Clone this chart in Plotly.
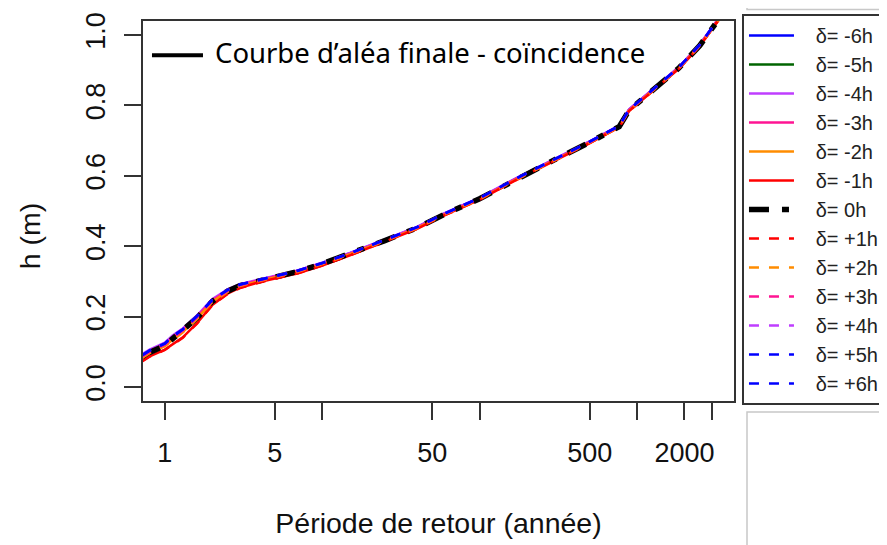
import plotly.graph_objects as go

# periode de retour (annees) commune a toutes les courbes
periode = [0.72, 0.8, 1.0, 1.12, 1.3, 1.6, 2.0, 2.5, 3.0, 4.0, 5.0, 7.0, 10, 15, 25, 40,
           60, 100, 170, 300, 500, 770, 890, 1250, 1850, 2500, 3300]

# hauteurs h (m), une liste par decalage delta
h_m6 = [0.090, 0.103, 0.123, 0.143, 0.163, 0.200, 0.247, 0.275, 0.290, 0.304, 0.314, 0.330, 0.352,
        0.380, 0.418, 0.454, 0.493, 0.537, 0.592, 0.648, 0.697, 0.742, 0.788, 0.844, 0.909, 0.972, 1.047]
h_m5 = [0.086, 0.099, 0.119, 0.137, 0.159, 0.197, 0.244, 0.273, 0.289, 0.303, 0.313, 0.329, 0.351,
        0.379, 0.417, 0.453, 0.492, 0.536, 0.591, 0.647, 0.696, 0.741, 0.787, 0.843, 0.908, 0.971, 1.046]
h_m4 = [0.093, 0.106, 0.126, 0.146, 0.166, 0.203, 0.249, 0.277, 0.292, 0.305, 0.315, 0.331, 0.353,
        0.381, 0.419, 0.455, 0.494, 0.538, 0.593, 0.649, 0.698, 0.743, 0.789, 0.845, 0.910, 0.973, 1.048]
h_m3 = [0.088, 0.101, 0.121, 0.140, 0.161, 0.199, 0.246, 0.274, 0.290, 0.304, 0.314, 0.330, 0.351,
        0.379, 0.417, 0.453, 0.492, 0.536, 0.591, 0.647, 0.696, 0.741, 0.787, 0.843, 0.908, 0.971, 1.046]
h_m2 = [0.084, 0.097, 0.117, 0.135, 0.156, 0.194, 0.242, 0.271, 0.287, 0.301, 0.311, 0.327, 0.349,
        0.377, 0.415, 0.451, 0.490, 0.534, 0.589, 0.645, 0.694, 0.739, 0.785, 0.841, 0.906, 0.969, 1.044]
h_m1 = [0.074, 0.087, 0.106, 0.121, 0.141, 0.181, 0.233, 0.265, 0.282, 0.298, 0.308, 0.323, 0.345,
        0.374, 0.413, 0.449, 0.488, 0.532, 0.588, 0.644, 0.693, 0.738, 0.784, 0.840, 0.905, 0.968, 1.043]
h_0 = [0.085, 0.098, 0.118, 0.136, 0.158, 0.196, 0.243, 0.272, 0.288, 0.302, 0.312, 0.328, 0.350,
       0.378, 0.416, 0.452, 0.491, 0.535, 0.590, 0.646, 0.695, 0.740, 0.786, 0.842, 0.907, 0.970, 1.045]
h_p1 = [0.073, 0.086, 0.105, 0.120, 0.140, 0.180, 0.232, 0.264, 0.281, 0.297, 0.307, 0.323, 0.345,
        0.374, 0.413, 0.449, 0.488, 0.532, 0.588, 0.644, 0.693, 0.738, 0.784, 0.840, 0.905, 0.968, 1.043]
h_p2 = [0.083, 0.096, 0.116, 0.134, 0.155, 0.193, 0.241, 0.270, 0.287, 0.301, 0.311, 0.327, 0.349,
        0.377, 0.415, 0.451, 0.490, 0.534, 0.589, 0.645, 0.694, 0.739, 0.785, 0.841, 0.906, 0.969, 1.044]
h_p3 = [0.087, 0.100, 0.120, 0.139, 0.160, 0.198, 0.245, 0.273, 0.289, 0.303, 0.313, 0.329, 0.351,
        0.379, 0.417, 0.453, 0.492, 0.536, 0.591, 0.647, 0.696, 0.741, 0.787, 0.843, 0.908, 0.971, 1.046]
h_p4 = [0.092, 0.105, 0.125, 0.145, 0.165, 0.202, 0.248, 0.276, 0.291, 0.305, 0.315, 0.331, 0.353,
        0.380, 0.418, 0.454, 0.493, 0.537, 0.592, 0.648, 0.697, 0.742, 0.788, 0.844, 0.909, 0.972, 1.047]
h_p5 = [0.090, 0.103, 0.123, 0.143, 0.163, 0.201, 0.247, 0.275, 0.291, 0.304, 0.314, 0.330, 0.352,
        0.380, 0.418, 0.454, 0.493, 0.537, 0.592, 0.648, 0.697, 0.742, 0.788, 0.844, 0.909, 0.972, 1.047]
h_p6 = [0.091, 0.104, 0.124, 0.144, 0.164, 0.201, 0.248, 0.276, 0.291, 0.305, 0.315, 0.331, 0.352,
        0.380, 0.418, 0.454, 0.493, 0.537, 0.592, 0.648, 0.697, 0.742, 0.788, 0.844, 0.909, 0.972, 1.047]

noms = ["δ= -6h", "δ= -5h", "δ= -4h", "δ= -3h", "δ= -2h", "δ= -1h", "δ= 0h",
        "δ= +1h", "δ= +2h", "δ= +3h", "δ= +4h", "δ= +5h", "δ= +6h"]
series = [h_m6, h_m5, h_m4, h_m3, h_m2, h_m1, h_0, h_p1, h_p2, h_p3, h_p4, h_p5, h_p6]

x_ticks = [1, 5, 10, 50, 100, 500, 1000, 2000, 3000]
x_labels = ["1", "5", "", "50", "", "500", "", "2000", ""]
y_ticks = [0.0, 0.2, 0.4, 0.6, 0.8, 1.0]

couleurs = ["#0000FF", "#006400", "#BF3EFF", "#FF1493", "#FF8C00", "#FF0000", "#000000",
            "#FF0000", "#FF8C00", "#FF1493", "#BF3EFF", "#0000FF", "#0000FF"]

fig = go.Figure()
for nom, h, c in zip(noms, series, couleurs):
    if nom == "δ= 0h":
        ligne = dict(color=c, width=5.5, dash="20px,13px,7px,13px")
    elif "+" in nom:
        ligne = dict(color=c, width=2.5, dash="10px,10px")
    else:
        ligne = dict(color=c, width=2.5)
    # espaces insecables pour decaler le texte de la legende
    fig.add_trace(go.Scatter(x=periode, y=h, mode="lines", name="\u00a0\u00a0\u00a0" + nom,
                             line=ligne))

police = "Liberation Sans, Arial"
axe = dict(showline=True, linecolor="#333333", linewidth=1.5, mirror=True,
           ticks="outside", ticklen=17, tickwidth=1.5, tickcolor="#333333",
           showgrid=False, zeroline=False, automargin=False,
           tickfont=dict(family=police, size=27, color="#111111"))

fig.update_xaxes(type="log", range=[-0.139, 3.616], tickvals=x_ticks, ticktext=x_labels,
                 ticklabelstandoff=10,
                 title=dict(text="Période de retour (année)", standoff=46,
                            font=dict(family=police, size=28.5, color="#111111")),
                 **axe)
fig.update_yaxes(range=[-0.04, 1.04], tickvals=y_ticks, tickformat=".1f", tickangle=-90,
                 ticklabelstandoff=8, **axe)

# titre de l'axe y (un peu sous le centre comme sur l'original)
fig.add_annotation(text="h (m)", xref="paper", yref="paper", x=-0.191, y=0.434,
                   textangle=-90, showarrow=False, xanchor="center", yanchor="middle",
                   font=dict(family=police, size=28.5, color="#111111"))

# legende interne (trait noir + texte)
fig.add_shape(type="line", xref="paper", yref="paper", x0=0.0152, x1=0.1015, y0=0.91, y1=0.91,
              line=dict(color="black", width=4))
fig.add_annotation(text="Courbe d’aléa finale - coïncidence", xref="paper", yref="paper",
                   x=0.118, y=0.918, xanchor="left", yanchor="middle", showarrow=False,
                   font=dict(family="Noto Sans", size=27.5, color="black"))

# cadres gris clair autour de la legende (image d'origine)
fig.add_shape(type="rect", xref="paper", yref="paper", x0=1.022, x1=1.3, y0=1.03, y1=1.2,
              line=dict(color="#C8C8C8", width=1.5))
fig.add_shape(type="rect", xref="paper", yref="paper", x0=1.022, x1=1.3, y0=-0.029, y1=-0.5,
              line=dict(color="#C8C8C8", width=1.5))

# la page html ajoute une marge de 8 px : la figure fait 879x537
fig.update_layout(
    width=879, height=537,
    margin=dict(l=135, r=153, t=13, b=144, autoexpand=False),
    paper_bgcolor="white", plot_bgcolor="white",
    showlegend=True,
    legend=dict(x=1.0135, y=0.989, yref="container", xanchor="left", yanchor="top",
                bordercolor="#333333", borderwidth=2, bgcolor="white",
                font=dict(family=police, size=20, color="#222222"),
                tracegroupgap=0, itemwidth=45, maxheight=430),
)

fig.write_html("out.html")
